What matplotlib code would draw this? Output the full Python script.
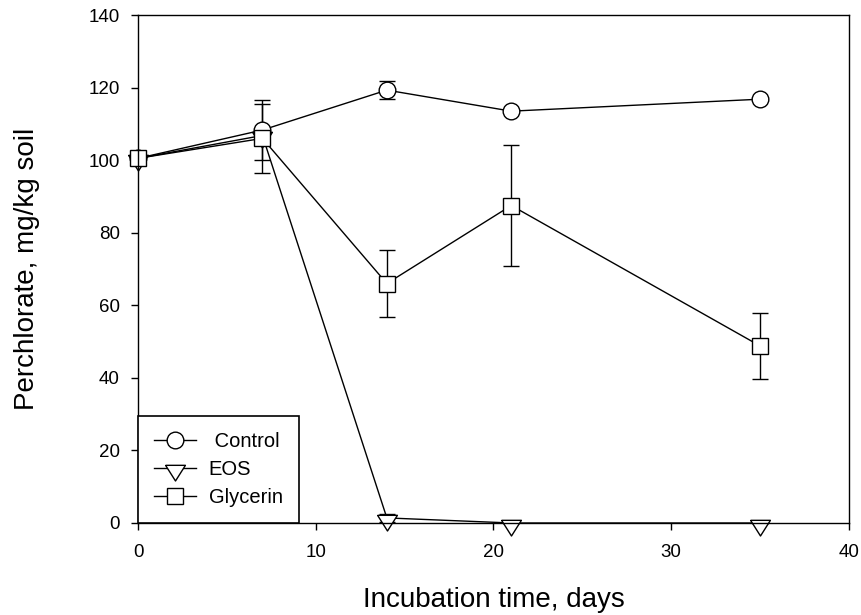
import matplotlib
matplotlib.use("Agg")
import matplotlib.pyplot as plt
from matplotlib.lines import Line2D

plt.rcParams['font.family'] = ['Liberation Sans', 'DejaVu Sans']

days = [0, 7, 14, 21, 35]
control = [100.5, 108.3, 119.3, 113.5, 116.8]
control_err = [0, 8.2, 2.5, 0, 0]
eos = [100.5, 106.8, 1.4, 0.0, 0.0]
eos_err = [0, 0, 1.2, 0, 0]
glycerin = [100.5, 106.0, 66.0, 87.5, 48.8]
glycerin_err = [0, 9.6, 9.2, 16.6, 9.1]
series_names = [' Control', 'EOS', 'Glycerin']

# downward triangle anchored near its centroid
tri = [(-1, 0.32), (1, 0.32), (0, -1.26), (-1, 0.32)]

fig = plt.figure(figsize=(8.61, 6.15), dpi=100)
ax = fig.add_axes([0.1603, 0.1496, 0.8257, 0.826])

common = dict(color='black', lw=1.0, markerfacecolor='white',
              markeredgecolor='black', markeredgewidth=1.0, capsize=5.5,
              elinewidth=1.0, capthick=1.0)
for vals, errs, mk, ms in [(control, control_err, 'o', 12),
                           (eos, eos_err, tri, 18),
                           (glycerin, glycerin_err, 's', 11.5)]:
    cont = ax.errorbar(days, vals, yerr=errs, marker=mk, markersize=ms, **common)
    cont.lines[0].set_clip_on(False)
    for art in cont.lines[1]:
        art.set_clip_on(False)
    for art in cont.lines[2]:
        art.set_clip_on(False)

ax.set_xlim(0, 40)
ax.set_ylim(0, 140)
ax.set_xticks([0, 10, 20, 30, 40])
ax.set_yticks(range(0, 141, 20))
ax.tick_params(direction='out', length=5, width=1, labelsize=13.5, top=False, right=False)
ax.tick_params(axis='y', pad=8)
ax.tick_params(axis='x', pad=10)
for s in ax.spines.values():
    s.set_linewidth(1.0)

ax.set_xlabel('Incubation time, days', fontsize=20, labelpad=19)
ax.set_ylabel('Perchlorate, mg/kg soil', fontsize=20, labelpad=35)

handles = [
    Line2D([], [], color='black', lw=1.0, marker='o', markersize=12,
           markerfacecolor='white', markeredgecolor='black'),
    Line2D([], [], color='black', lw=1.0, marker=tri, markersize=18,
           markerfacecolor='white', markeredgecolor='black'),
    Line2D([], [], color='black', lw=1.0, marker='s', markersize=11.5,
           markerfacecolor='white', markeredgecolor='black'),
]
leg = ax.legend(handles, series_names, loc='lower left', fontsize=14.5, frameon=True,
                fancybox=False, edgecolor='black', handlelength=2.1,
                handletextpad=0.6, borderaxespad=0.0, borderpad=0.8,
                labelspacing=0.45, framealpha=1)
leg.get_frame().set_linewidth(1.2)
leg.set_zorder(5)

fig.savefig('out.png', dpi=100)
